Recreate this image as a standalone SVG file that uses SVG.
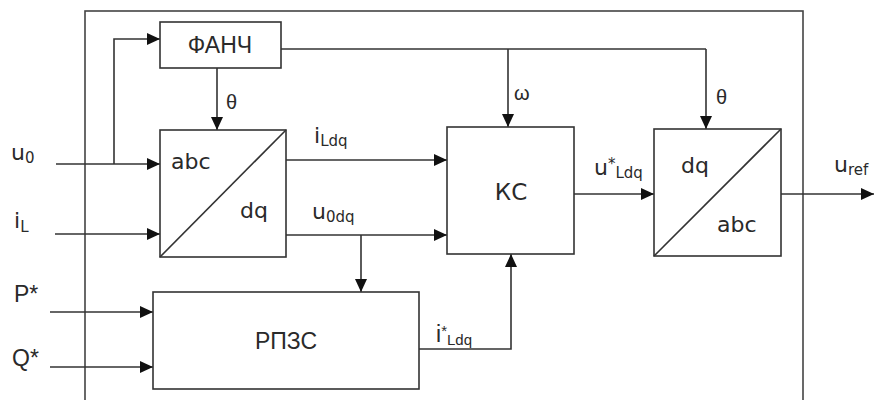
<svg xmlns="http://www.w3.org/2000/svg" width="874" height="400" viewBox="0 0 874 400">
<defs>
<marker id="ah" markerUnits="userSpaceOnUse" markerWidth="14" markerHeight="12" refX="13" refY="6" orient="auto">
<path d="M0,0 L13,6 L0,12 Z" fill="#111"/>
</marker>
<style>
.box{fill:#fff;stroke:#333;stroke-width:1.6}
.ln{fill:none;stroke:#333;stroke-width:1.6}
.ar{fill:none;stroke:#333;stroke-width:1.6;marker-end:url(#ah)}
.a{font-family:"Liberation Sans",Arial,sans-serif;fill:#2a2a2a}
.t{font-family:"DejaVu Sans","Liberation Sans",sans-serif;fill:#2a2a2a}
.big{font-size:22px}
.cap{font-size:23px}
.sub{font-size:15px}
</style>
</defs>
<rect x="0" y="0" width="874" height="400" fill="#fff"/>
<rect id="frame" x="85" y="11" width="718" height="400" fill="none" stroke="#444" stroke-width="1.6"/>

<g id="connectors">
<path class="ln" d="M56,164 H114"/>
<path class="ar" d="M114,164 H160"/>
<path class="ar" d="M114,164 V39 H160"/>
<path class="ar" d="M55,234 H160"/>
<path class="ar" d="M217,68 V130"/>
<path class="ln" d="M281,49 H706"/>
<path class="ar" d="M508,49 V127"/>
<path class="ar" d="M706,49 V129"/>
<path class="ar" d="M286,160 H447"/>
<path class="ar" d="M286,235 H447"/>
<path class="ar" d="M361,235 V292"/>
<path class="ar" d="M50,312 H153"/>
<path class="ar" d="M50,367 H153"/>
<path class="ar" d="M419,349 H511 V254"/>
<path class="ar" d="M574,194 H654"/>
<path class="ar" d="M781,194 H874"/>
</g>

<g id="fanch">
<rect class="box" x="160" y="22" width="121" height="46"/>
<text class="a cap" x="220" y="53" text-anchor="middle">ФАНЧ</text>
</g>

<g id="abc-dq">
<rect class="box" x="160" y="130" width="126" height="127"/>
<line class="ln" x1="160" y1="257" x2="286" y2="130"/>
<text class="t big" x="171" y="169">abc</text>
<text class="t big" x="240" y="218">dq</text>
</g>

<g id="ks">
<rect class="box" x="447" y="127" width="127" height="127"/>
<text class="t cap" x="511" y="200" text-anchor="middle">КС</text>
</g>

<g id="dq-abc">
<rect class="box" x="654" y="129" width="127" height="127"/>
<line class="ln" x1="654" y1="256" x2="781" y2="129"/>
<text class="t big" x="681" y="173">dq</text>
<text class="t big" x="717" y="232">abc</text>
</g>

<g id="rpzs">
<rect class="box" x="153" y="292" width="266" height="97"/>
<text class="a cap" x="286" y="349" text-anchor="middle">РПЗС</text>
</g>

<g id="labels">
<text class="t big" x="11" y="160">u<tspan class="sub" dy="3">0</tspan></text>
<text class="t big" x="14" y="228">i<tspan class="sub" dy="4">L</tspan></text>
<text class="a cap" x="14" y="302">P*</text>
<text class="a cap" x="12" y="366">Q*</text>
<text class="a" font-size="20" x="226" y="109">θ</text>
<text class="a" font-size="20" x="514" y="100">ω</text>
<text class="a" font-size="20" x="716" y="104">θ</text>
<text class="t big" x="314" y="143">i<tspan class="sub" dy="3">Ldq</tspan></text>
<text class="t big" x="312" y="219">u<tspan class="sub" dy="3">0dq</tspan></text>
<text class="t big" x="594" y="175">u<tspan class="sub" dy="-6">*</tspan><tspan class="sub" dy="9">Ldq</tspan></text>
<text class="t big" x="834" y="172">u<tspan class="sub" dy="3">ref</tspan></text>
<text class="a cap" x="436" y="342">i<tspan class="sub" dy="-6">*</tspan><tspan class="sub" dy="9">Ldq</tspan></text>
</g>
</svg>
